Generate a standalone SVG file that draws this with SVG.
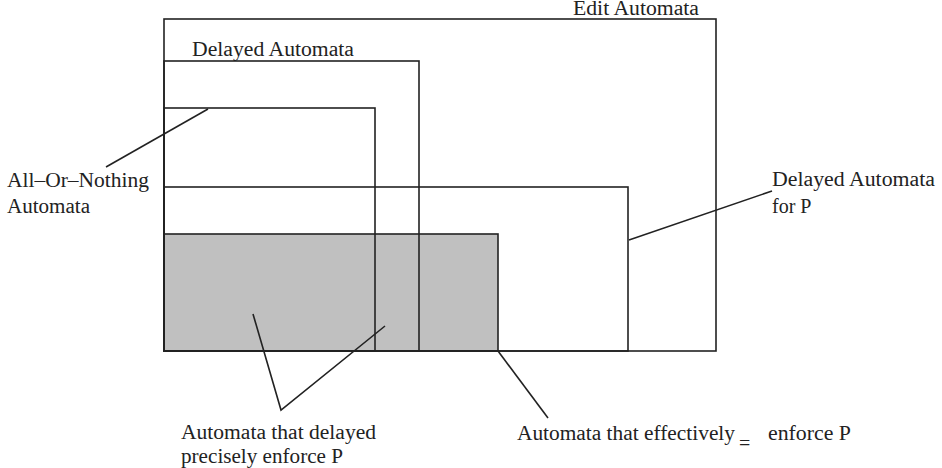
<svg xmlns="http://www.w3.org/2000/svg" width="942" height="468" viewBox="0 0 942 468">
<style>
.box{fill:none;stroke:#222;stroke-width:1.6}
.shade{fill:#c0c0c0;stroke:#222;stroke-width:1.6}
.lbl{font-family:"Liberation Serif","Times New Roman",serif;font-size:20px;fill:#222}
.lead{stroke:#222;stroke-width:1.6;fill:none}
</style>
<rect width="942" height="468" fill="#fff"/>
<g id="effective-enforce">
<rect class="shade" x="164" y="234" width="334" height="117"/>
</g>
<g id="edit-automata">
<rect class="box" x="164" y="19" width="552" height="332"/>
<text class="lbl" x="573" y="15" textLength="126" lengthAdjust="spacingAndGlyphs">Edit Automata</text>
</g>
<g id="delayed-automata">
<rect class="box" x="164" y="61" width="255" height="290"/>
<text class="lbl" x="192" y="56" textLength="162" lengthAdjust="spacingAndGlyphs">Delayed Automata</text>
</g>
<g id="all-or-nothing">
<rect class="box" x="164" y="108" width="211" height="243"/>
<text class="lbl" x="7" y="187" textLength="142" lengthAdjust="spacingAndGlyphs">All–Or–Nothing</text>
<text class="lbl" x="7" y="213" textLength="83" lengthAdjust="spacingAndGlyphs">Automata</text>
</g>
<g id="delayed-for-p">
<rect class="box" x="164" y="187" width="464" height="164"/>
<text class="lbl" x="772" y="186" textLength="163" lengthAdjust="spacingAndGlyphs">Delayed Automata</text>
<text class="lbl" x="772" y="213">for P</text>
</g>
<g id="precise-label">
<text class="lbl" x="181" y="439" textLength="195" lengthAdjust="spacingAndGlyphs">Automata that delayed</text>
<text class="lbl" x="181" y="463" textLength="162" lengthAdjust="spacingAndGlyphs">precisely enforce P</text>
</g>
<g id="effective-label">
<text class="lbl" x="517" y="440" textLength="218" lengthAdjust="spacingAndGlyphs">Automata that effectively</text>
<text class="lbl" x="739" y="450">=</text>
<text class="lbl" x="768" y="440" textLength="83" lengthAdjust="spacingAndGlyphs">enforce P</text>
</g>
<g id="connectors">
<line class="lead" x1="208" y1="109" x2="106" y2="167"/>
<line class="lead" x1="629" y1="240" x2="772" y2="191"/>
<polyline class="lead" points="253,314 281,410 385,326"/>
<line class="lead" x1="498" y1="351" x2="548" y2="418"/>
</g>
</svg>
